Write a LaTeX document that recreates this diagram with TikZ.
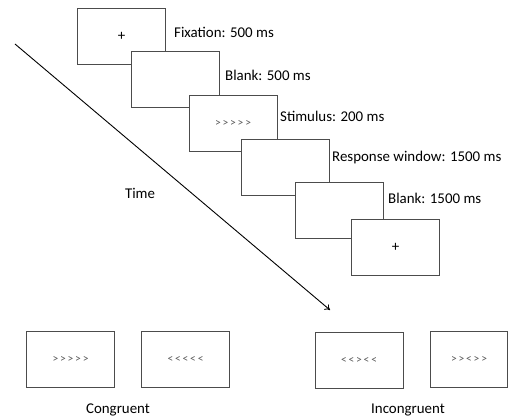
\documentclass[tikz,border=0pt]{standalone}
\usepackage{fontspec}
\setmainfont{Carlito}
\newfontfamily\stimfont[LetterSpace=16]{Carlito}
\usetikzlibrary{arrows.meta}

\begin{document}
\begin{tikzpicture}[x=1pt,y=-1pt,
    screen/.style={draw=black!70,fill=white,line width=0.9pt,
      minimum width=88pt,minimum height=56pt,inner sep=0pt},
    lbl/.style={font=\fontsize{14.9}{17}\selectfont,inner sep=0pt},
    stim/.style={font=\stimfont\fontsize{11.5}{13}\selectfont,text=black!65}]
  \useasboundingbox (0,0) rectangle (508,419);
  \node[screen,lbl] (fix) at (121.5,36) {+};
  \node[screen] (blank1) at (175,79) {};
  \node[screen,stim] (stimulus) at (233,123) {>>>>>};
  \node[screen] (resp) at (285,167) {};
  \node[screen] (blank2) at (339,210) {};
  \node[screen,lbl] (next) at (395.5,247.5) {+};
  \node[lbl,anchor=west] (tfix) at (174,32) {Fixation: 500 ms};
  \node[lbl,anchor=west] (tblank1) at (225,75) {Blank: 500 ms};
  \node[lbl,anchor=west] (tstim) at (280,116) {Stimulus: 200 ms};
  \node[lbl,anchor=west] (tresp) at (332,158) {Response window: 1500 ms};
  \node[lbl,anchor=west] (tblank2) at (388,198) {Blank: 1500 ms};
  \coordinate (tstart) at (15,44);
  \coordinate (tend) at (330,310);
  \draw[line width=0.9pt,-{To[length=5pt,width=7pt]}] (tstart) -- (tend);
  \node[lbl] (time) at (140,193) {Time};
  \node[screen,stim] (congA) at (70.5,359.5) {>>>>>};
  \node[screen,stim] (congB) at (185.5,359.5) {<<<<<};
  \node[screen,stim] (incA) at (359,360) {<<><<};
  \node[screen,stim,minimum width=77pt] (incB) at (469,359.5) {>><>>};
  \node[lbl] (cong) at (118,410) {Congruent};
  \node[lbl] (incong) at (408,410) {Incongruent};
\end{tikzpicture}
\end{document}
